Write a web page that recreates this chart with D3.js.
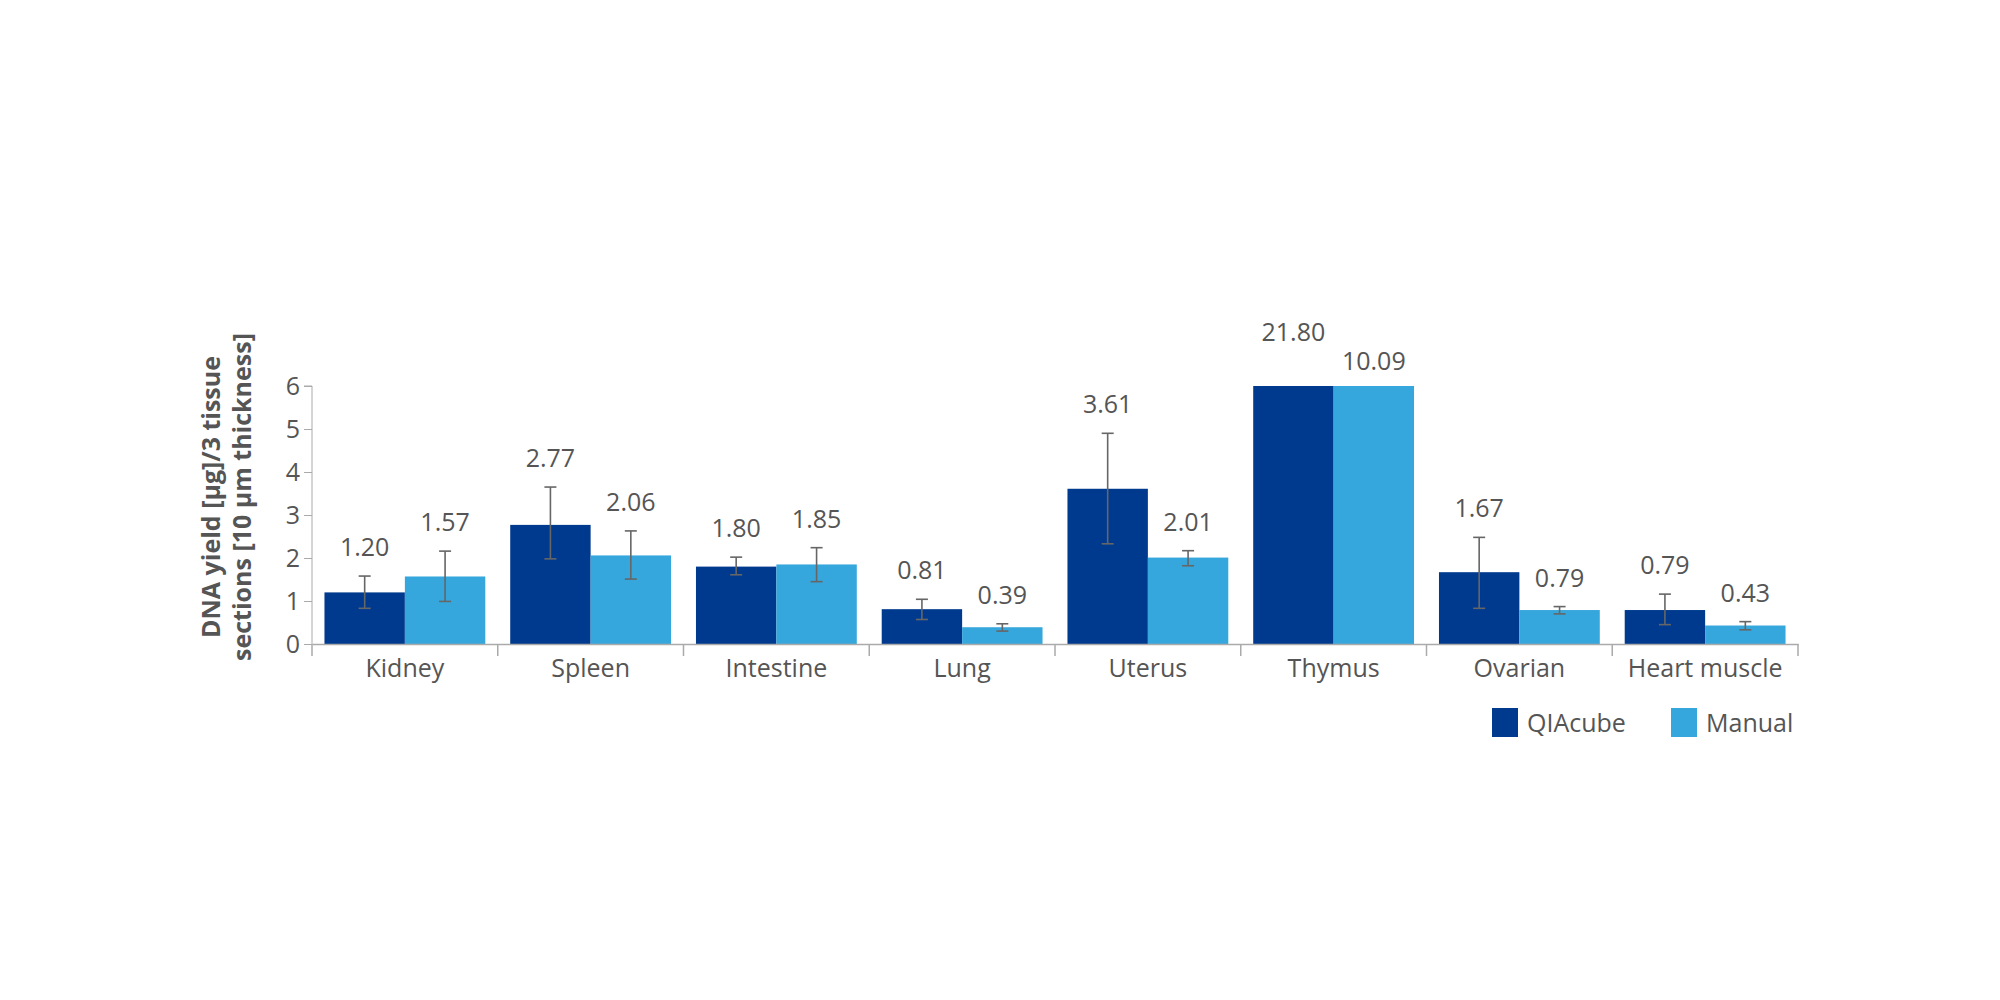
<!DOCTYPE html>
<html><head><meta charset="utf-8">
<script src="https://cdn.jsdelivr.net/npm/d3@7"></script>
<style>body{margin:0;background:#fff}text{font-family:"Open Sans",sans-serif}</style>
</head><body><svg id="c" width="2000" height="1000"></svg>
<script>
const categories = ["Kidney","Spleen","Intestine","Lung","Uterus","Thymus","Ovarian","Heart muscle"];
const series = ["QIAcube","Manual"];
const qiacube = [1.20,2.77,1.80,0.81,3.61,21.80,1.67,0.79];
const manual  = [1.57,2.06,1.85,0.39,2.01,10.09,0.79,0.43];
const qiaErrLow  = [0.83,1.98,1.61,0.57,2.33,null,0.83,0.45];
const qiaErrHigh = [1.58,3.65,2.02,1.04,4.90,null,2.48,1.16];
const manErrLow  = [0.99,1.51,1.45,0.30,1.82,null,0.70,0.33];
const manErrHigh = [2.16,2.63,2.24,0.47,2.17,null,0.87,0.52];
const yTicks = [0,1,2,3,4,5,6];
const colors = ["#003a8f","#36a7dc"];

const svg = d3.select("#c");
const x = d3.scaleBand().domain(categories).range([312,1798]).paddingInner(0).paddingOuter(0);
const xs = d3.scaleBand().domain(series).range([0,x.bandwidth()]).paddingInner(0).paddingOuter(0.155);
const y = d3.scaleLinear().domain([0,6]).range([644,386]);
const clip = v => Math.min(v,6);

const vals = [qiacube, manual], lo=[qiaErrLow,manErrLow], hi=[qiaErrHigh,manErrHigh];
const data = [];
categories.forEach((c,i)=>series.forEach((s,j)=>data.push({c,s,j,v:vals[j][i],lo:lo[j][i],hi:hi[j][i]})));

svg.selectAll("rect.bar").data(data).join("rect")
  .attr("x",d=>x(d.c)+xs(d.s)).attr("width",xs.bandwidth())
  .attr("y",d=>y(clip(d.v))).attr("height",d=>y(0)-y(clip(d.v)))
  .attr("fill",d=>colors[d.j]);

const eb = data.filter(d=>d.lo!=null);
const g = svg.append("g").attr("stroke","#666").attr("stroke-width",1.6);
eb.forEach(d=>{
  const cx = x(d.c)+xs(d.s)+xs.bandwidth()/2;
  g.append("line").attr("x1",cx).attr("x2",cx).attr("y1",y(d.lo)).attr("y2",y(d.hi));
  g.append("line").attr("x1",cx-6).attr("x2",cx+6).attr("y1",y(d.lo)).attr("y2",y(d.lo));
  g.append("line").attr("x1",cx-6).attr("x2",cx+6).attr("y1",y(d.hi)).attr("y2",y(d.hi));
});

svg.selectAll("text.val").data(data).join("text")
  .attr("x",d=>x(d.c)+xs(d.s)+xs.bandwidth()/2)
  .attr("y",d=>{
    const top = d.hi!=null ? y(d.hi) : y(clip(d.v));
    let off = d.hi!=null ? 20 : 16;
    if(d.v>6 && d.j===0) off += 29;
    return top-off;})
  .attr("text-anchor","middle").attr("font-size",25).attr("fill","#555")
  .text(d=>d.v.toFixed(2));

// axes
const ya = svg.append("g").attr("transform","translate(312,0)")
  .call(d3.axisLeft(y).tickValues(yTicks).tickSize(8).tickFormat(d3.format("d")));
ya.select(".domain").attr("stroke","#aaa").attr("d","M-8,386H0V644");
ya.selectAll(".tick line").attr("stroke","#aaa");
ya.selectAll(".tick text").attr("font-size",25).attr("fill","#555").attr("font-family","Open Sans").attr("x",-12);

const xa = svg.append("g").attr("transform","translate(0,644)")
  .call(d3.axisBottom(x).tickSize(0));
xa.select(".domain").attr("stroke","#aaa").attr("stroke-width",1.5);
xa.selectAll(".tick text").attr("font-size",25).attr("fill","#555").attr("font-family","Open Sans").attr("dy","1.2em");
const bounds = categories.map(c=>x(c)).concat([x.range()[1]]);
svg.append("g").selectAll("line").data(bounds).join("line")
  .attr("x1",d=>d).attr("x2",d=>d).attr("y1",644).attr("y2",656).attr("stroke","#aaa").attr("stroke-width",1.5);

// y title
const t = svg.append("text").attr("transform","translate(220,497) rotate(-90)")
  .attr("text-anchor","middle").attr("font-size",25).attr("font-weight","bold").attr("fill","#555");
t.append("tspan").attr("x",0).attr("dy",0).text("DNA yield [µg]/3 tissue");
t.append("tspan").attr("x",0).attr("dy","1.25em").text("sections [10 µm thickness]");

// legend
const leg = [{s:"QIAcube",x:1492},{s:"Manual",x:1671}];
leg.forEach((l,i)=>{
  svg.append("rect").attr("x",l.x).attr("y",708).attr("width",26).attr("height",29).attr("fill",colors[i]);
  svg.append("text").attr("x",l.x+35).attr("y",732).attr("font-size",25).attr("fill","#555").text(l.s);
});
</script></body></html>
